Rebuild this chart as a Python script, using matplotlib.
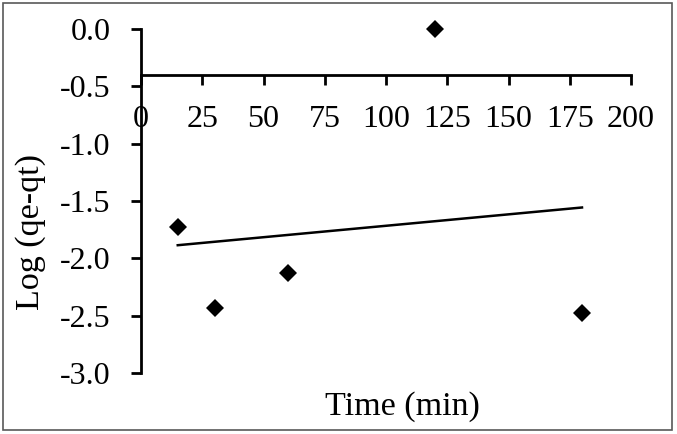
import numpy as np
import matplotlib
matplotlib.use("Agg")
import matplotlib.pyplot as plt
from matplotlib.patches import Rectangle

time_min = [15, 30, 60, 120, 180]
log_qe_qt = [-1.73, -2.43, -2.13, 0.0, -2.48]
x_ticks = [0, 25, 50, 75, 100, 125, 150, 175, 200]
y_ticks = [0.0, -0.5, -1.0, -1.5, -2.0, -2.5, -3.0]
x_label = "Time (min)"
y_label = "Log (qe-qt)"

plt.rcParams['font.family'] = ['Liberation Serif', 'DejaVu Serif']

W, H = 677, 434
fig = plt.figure(figsize=(W / 100, H / 100), dpi=100)
ax = fig.add_axes([141 / W, 1 - 373 / H, (631 - 141) / W, (373 - 29) / H])

ax.plot(time_min, log_qe_qt, linestyle='none', marker='D', markersize=9.4,
        color='black', markeredgewidth=0, clip_on=False, zorder=3)

slope, intercept = np.polyfit(time_min, log_qe_qt, 1)
xs = np.array([min(time_min), max(time_min)])
ax.plot(xs, slope * xs + intercept, color='black', linewidth=1.8, clip_on=False)

ax.set_xlim(0, 200)
ax.set_ylim(-3.0, 0.0)
ax.set_xticks(x_ticks)
ax.set_yticks(y_ticks)
ax.set_xticklabels([str(v) for v in x_ticks])
ax.set_yticklabels([f"{v:.1f}" for v in y_ticks])

for s in ['top', 'right']:
    ax.spines[s].set_visible(False)
ax.spines['bottom'].set_position(('data', -0.4))
ax.spines['bottom'].set_linewidth(2.0)
ax.spines['left'].set_linewidth(2.0)

ax.tick_params(axis='x', direction='out', length=7, width=2.0, labelsize=23, pad=15)
ax.tick_params(axis='y', direction='out', length=7, width=2.0, labelsize=23, pad=15)

fig.text(402 / W, 1 - 407 / H, x_label, ha='center', va='center', fontsize=24.5)
fig.text(31 / W, 1 - 232 / H, y_label, ha='center', va='center', fontsize=24.5, rotation=90)

fig.patches.append(Rectangle((3 / W, 1 - 430 / H), 669 / W, 427 / H, transform=fig.transFigure,
                             fill=False, edgecolor='#595959', linewidth=1.2))

fig.savefig("out.png", dpi=100)
